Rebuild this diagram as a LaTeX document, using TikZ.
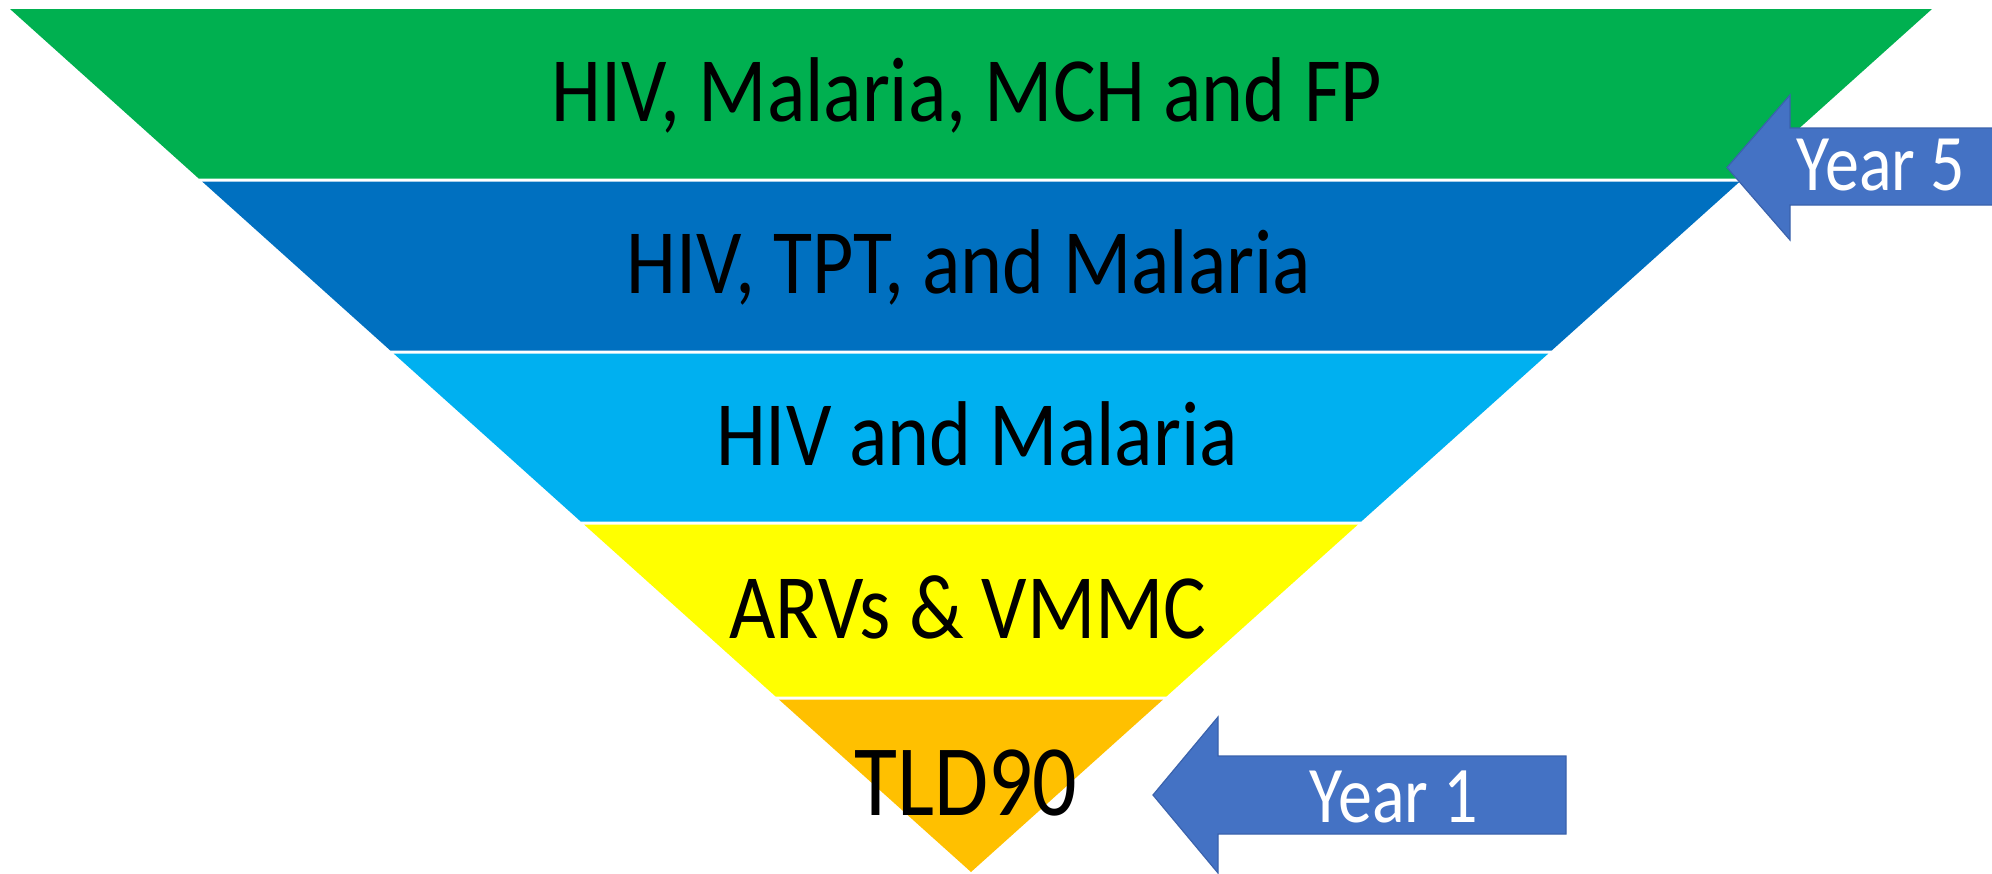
\documentclass[tikz,border=0pt]{standalone}
\usepackage{fontspec}
\setmainfont{Carlito}
\definecolor{cgreen}{HTML}{00B050}
\definecolor{cdblue}{HTML}{0070C0}
\definecolor{clblue}{HTML}{00B0F0}
\definecolor{cyellow}{HTML}{FFFF00}
\definecolor{corange}{HTML}{FFC000}
\definecolor{arrowblue}{HTML}{4472C4}
\definecolor{arrowedge}{HTML}{3A62AC}
\newcommand{\tallbox}[1]{\scalebox{1}[1.15]{#1}}
\begin{document}
\begin{tikzpicture}[x=0.5pt,y=-0.5pt,
  bandtxt/.style={anchor=base,inner sep=0pt,font=\fontsize{40}{48}\selectfont,text=black},
  yeartxt/.style={anchor=base,inner sep=0pt,font=\fontsize{34}{40}\selectfont,text=white},
  yeararrow/.style={fill=arrowblue,draw=arrowedge,line width=0.6pt,line join=miter}]
\useasboundingbox (0,0) rectangle (1992,873);
\clip (0,0) rectangle (1992,873);
% bands
\fill[cgreen]  (10,9) -- (1932,9) -- (1743.3,178.5) -- (198.7,178.5) -- cycle;
\fill[cdblue]  (202.1,181.5) -- (1739.9,181.5) -- (1551.7,350.5) -- (390.3,350.5) -- cycle;
\fill[clblue]  (393.6,353.5) -- (1548.4,353.5) -- (1361.3,521.5) -- (580.7,521.5) -- cycle;
\fill[cyellow] (584.0,524.5) -- (1358.0,524.5) -- (1166.4,696.5) -- (775.6,696.5) -- cycle;
\fill[corange] (778.9,699.5) -- (1163.1,699.5) -- (971,872) -- cycle;
% band labels
\node[bandtxt] (b1) at (967,121) {\tallbox{HIV, Malaria, MCH and FP}};
\node[bandtxt] (b2) at (969,293) {\tallbox{HIV, TPT, and Malaria}};
\node[bandtxt] (b3) at (977,465) {\tallbox{HIV and Malaria}};
\node[bandtxt] (b4) at (968,638) {\tallbox{ARVs \& VMMC}};
\node[bandtxt,font=\fontsize{44}{52}\selectfont] (b5) at (966,815) {\tallbox{TLD90}};
% arrows
\draw[yeararrow] (1727,167.5) -- (1790,95) -- (1790,128) -- (2010,128) -- (2010,205) -- (1790,205) -- (1790,240) -- cycle;
\draw[yeararrow] (1153,795) -- (1218,717) -- (1218,756) -- (1566,756) -- (1566,834) -- (1218,834) -- (1218,873) -- cycle;
\node[yeartxt] (y5) at (1881,190) {\scalebox{1}[1.18]{Year 5}};
\node[yeartxt] (y1) at (1394,822) {\scalebox{1}[1.18]{Year 1}};
\end{tikzpicture}
\end{document}
